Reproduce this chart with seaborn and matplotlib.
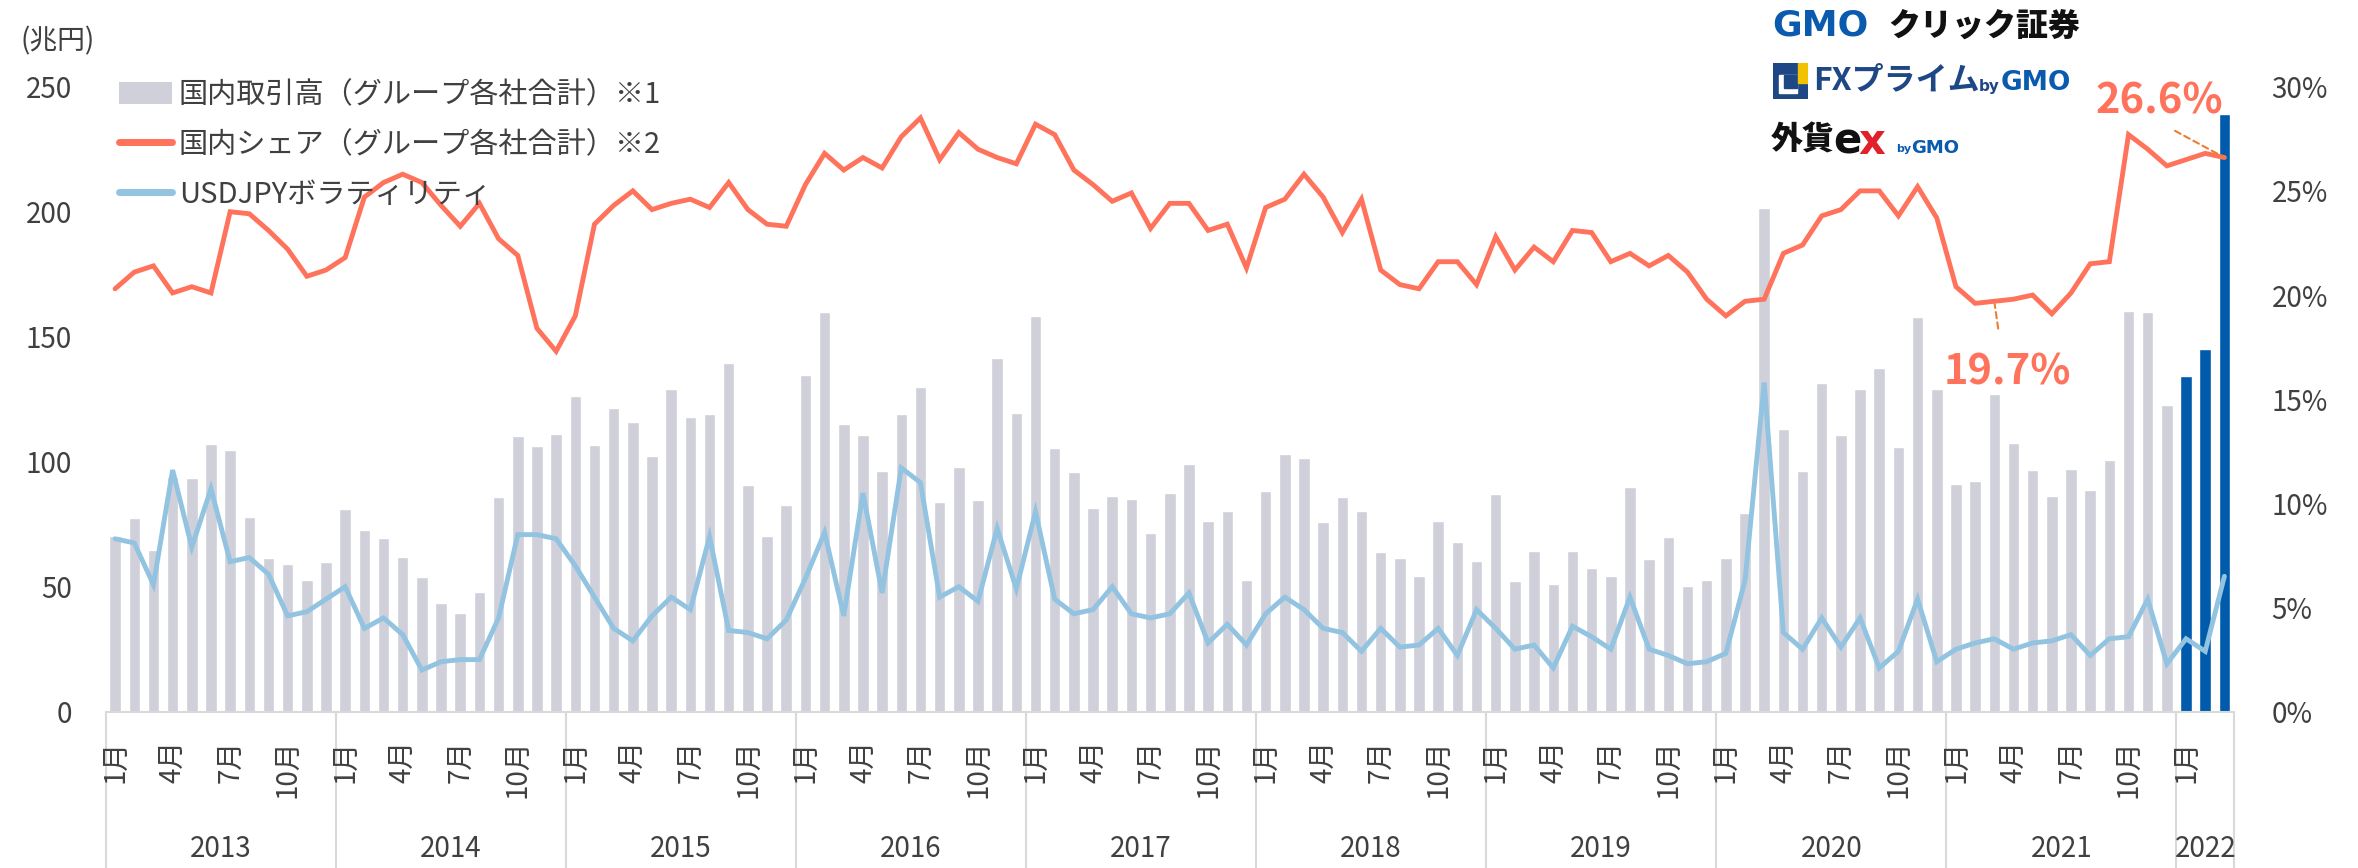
import numpy as np
import pandas as pd
import matplotlib
matplotlib.use("Agg")
import matplotlib.pyplot as plt
import matplotlib.transforms as mtransforms
from matplotlib.patches import Patch, Rectangle
from matplotlib.lines import Line2D
import seaborn as sns

# ---------------- data ----------------
years = [2013, 2014, 2015, 2016, 2017, 2018, 2019, 2020, 2021, 2022]
months_per_year = [12, 12, 12, 12, 12, 12, 12, 12, 12, 3]

# 国内取引高 (兆円)
volume = [
    70.3, 77.4, 64.5, 94.0, 93.4, 107.2, 104.8, 77.9, 61.6, 58.9, 52.7, 59.8,      # 2013
    81.0, 72.7, 69.5, 61.7, 53.8, 43.6, 39.4, 47.8, 85.8, 110.4, 106.2, 111.1,     # 2014
    126.1, 106.8, 121.4, 115.8, 102.1, 129.2, 117.8, 118.9, 139.5, 90.6, 70.3, 82.6,  # 2015
    134.8, 159.7, 115.1, 110.7, 96.1, 119.0, 129.8, 83.7, 98.0, 84.6, 141.6, 119.5,   # 2016
    158.2, 105.5, 95.9, 81.3, 86.1, 85.0, 71.6, 87.4, 99.1, 76.2, 80.2, 52.7,      # 2017
    88.2, 103.2, 101.6, 75.8, 85.7, 80.2, 63.7, 61.3, 54.1, 76.2, 67.7, 60.2,      # 2018
    86.9, 52.4, 64.1, 50.9, 64.1, 57.3, 54.2, 89.7, 60.9, 70.0, 50.3, 52.6,        # 2019
    61.6, 79.4, 201.5, 113.1, 96.1, 131.3, 110.7, 129.2, 137.6, 105.9, 158.0, 129.2,  # 2020
    91.0, 92.2, 126.9, 107.5, 96.7, 86.2, 97.1, 88.6, 100.7, 160.4, 160.0, 122.5,  # 2021
    134.4, 144.9, 239.0,                                                           # 2022
]

# 国内シェア (%)
share = [
    20.3, 21.1, 21.4, 20.1, 20.4, 20.1, 24.0, 23.9, 23.1, 22.2, 20.9, 21.2,
    21.8, 24.7, 25.4, 25.8, 25.4, 24.3, 23.3, 24.4, 22.7, 21.9, 18.4, 17.3,
    19.0, 23.4, 24.3, 25.0, 24.1, 24.4, 24.6, 24.2, 25.4, 24.1, 23.4, 23.3,
    25.3, 26.8, 26.0, 26.6, 26.1, 27.6, 28.5, 26.5, 27.8, 27.0, 26.6, 26.3,
    28.2, 27.7, 26.0, 25.3, 24.5, 24.9, 23.2, 24.4, 24.4, 23.1, 23.4, 21.3,
    24.2, 24.6, 25.8, 24.7, 23.0, 24.6, 21.2, 20.5, 20.3, 21.6, 21.6, 20.5,
    22.8, 21.2, 22.3, 21.6, 23.1, 23.0, 21.6, 22.0, 21.4, 21.9, 21.1, 19.8,
    19.0, 19.7, 19.8, 22.0, 22.4, 23.8, 24.1, 25.0, 25.0, 23.8, 25.2, 23.7,
    20.4, 19.6, 19.7, 19.8, 20.0, 19.1, 20.1, 21.5, 21.6, 27.7, 27.0, 26.2,
    26.5, 26.8, 26.6,
]

# USDJPY ボラティリティ (%)
volatility = [
    8.3, 8.1, 6.1, 11.6, 7.9, 10.7, 7.2, 7.4, 6.6, 4.6, 4.8, 5.4,
    6.0, 4.0, 4.5, 3.7, 2.0, 2.4, 2.5, 2.5, 4.5, 8.5, 8.5, 8.3,
    7.0, 5.5, 4.0, 3.4, 4.6, 5.5, 4.9, 8.4, 3.9, 3.8, 3.5, 4.4,
    6.4, 8.6, 4.6, 10.5, 5.7, 11.7, 11.0, 5.5, 6.0, 5.3, 8.8, 5.9,
    9.6, 5.4, 4.7, 4.9, 6.0, 4.7, 4.5, 4.7, 5.7, 3.3, 4.2, 3.2,
    4.7, 5.5, 4.9, 4.0, 3.8, 2.9, 4.0, 3.1, 3.2, 4.0, 2.7, 4.9,
    4.0, 3.0, 3.2, 2.1, 4.1, 3.6, 3.0, 5.5, 3.0, 2.7, 2.3, 2.4,
    2.8, 6.3, 15.8, 3.8, 3.0, 4.5, 3.1, 4.5, 2.1, 2.9, 5.4, 2.4,
    3.0, 3.3, 3.5, 3.0, 3.3, 3.4, 3.7, 2.7, 3.5, 3.6, 5.4, 2.3,
    3.5, 2.9, 6.5,
]

month_numbers = [m for n in months_per_year for m in range(1, n + 1)]
year_of = [y for y, n in zip(years, months_per_year) for _ in range(n)]
labels_legend = ["国内取引高（グループ各社合計）※1", "国内シェア（グループ各社合計）※2", "USDJPYボラティリティ"]
highlight_year = 2022
annot_points = [98, 110]   # indices of annotated share values (2021/3, 2022/3)

# ---------------- style ----------------
sns.set_theme(style="white")
plt.rcParams["font.family"] = ["Noto Sans CJK JP", "DejaVu Sans"]

GRAY_BAR = "#CFD0D9"
BLUE_BAR = "#005BAC"
RED = "#FF735C"
LBLUE = "#92C3E0"
TXT = "#404040"
SEP = "#D9D9D9"

W, H = 2358, 868
fig = plt.figure(figsize=(W / 100, H / 100), dpi=100)
ax_l, ax_r, ax_t, ax_b = 105.5, 2234, 86.7, 711.7
ax = fig.add_axes([ax_l / W, 1 - ax_b / H, (ax_r - ax_l) / W, (ax_b - ax_t) / H])

n = len(volume)
df = pd.DataFrame({
    "idx": np.arange(n),
    "volume": volume,
    "share": share,
    "vol": volatility,
    "kind": ["hl" if y == highlight_year else "base" for y in year_of],
})

sns.barplot(data=df, x="idx", y="volume", hue="kind",
            palette={"base": GRAY_BAR, "hl": BLUE_BAR}, dodge=False,
            width=0.6, saturation=1, legend=False, ax=ax, zorder=1)
ax.set_xlim(-0.5, n - 0.5)
ax.set_ylim(0, 250)
ax.set_yticks(range(0, 251, 50))
ax.set_ylabel("")
ax.set_xlabel("")

ax2 = ax.twinx()
sns.lineplot(data=df, x="idx", y="share", ax=ax2, color=RED, lw=3.5,
             solid_joinstyle="miter")
sns.lineplot(data=df, x="idx", y="vol", ax=ax2, color=LBLUE, lw=3.5,
             solid_joinstyle="miter")
ax2.set_ylim(0, 30)
ax2.set_yticks(range(0, 31, 5))
ax2.set_yticklabels([f"{v}%" for v in range(0, 31, 5)])
ax2.set_ylabel("")
ax2.set_xlabel("")
ax2.set_xlim(-0.5, n - 0.5)

for a in (ax, ax2):
    for s in a.spines.values():
        s.set_visible(False)
ax.spines["bottom"].set_visible(True)
ax.spines["bottom"].set_color(SEP)
ax.spines["bottom"].set_linewidth(1.5)

ax.tick_params(axis="y", length=0, pad=24, labelsize=20, labelcolor=TXT)
ax2.tick_params(axis="y", length=0, pad=27, labelsize=20, labelcolor=TXT)

# month ticks
tick_pos = [i for i, m in enumerate(month_numbers) if m in (1, 4, 7, 10)]
ax.set_xticks(tick_pos)
ax.set_xticklabels([f"{month_numbers[i]}月" for i in tick_pos], rotation=90)
ax.tick_params(axis="x", length=0, pad=20, labelsize=20, labelcolor=TXT)
ax2.tick_params(axis="x", length=0, labelbottom=False)

# year labels and separators
trans = mtransforms.blended_transform_factory(ax.transData, ax.transAxes)
start = 0
bounds = [-0.5]
for y, cnt in zip(years, months_per_year):
    center = start + (cnt - 1) / 2
    ax.text(center, -0.22, str(y), transform=trans, ha="center", va="center",
            fontsize=20, color=TXT)
    start += cnt
    bounds.append(start - 0.5)
for b in bounds:
    ax.plot([b, b], [0, -0.26], transform=trans, color=SEP, lw=1.5,
            clip_on=False, zorder=0)

# unit label
fig.text(58 / W, 1 - 41 / H, "(兆円)", ha="center", va="center", fontsize=20, color=TXT)

# legend
handles = [Patch(facecolor=GRAY_BAR, edgecolor="none"),
           Line2D([], [], color=RED, lw=5),
           Line2D([], [], color=LBLUE, lw=5)]
fig.legend(handles, labels_legend, loc="upper left",
           bbox_to_anchor=(119 / W, 1 - 80 / H), frameon=False, fontsize=21,
           handlelength=1.8, handleheight=0.75, handletextpad=0.25,
           labelspacing=0.68, borderpad=0, borderaxespad=0, labelcolor=TXT)

# annotations
ann_style = dict(arrowstyle="-", linestyle=(0, (3, 2)), color="#ED7D31", lw=1.5)
i1, i2 = annot_points
ax2.annotate(f"{share[i1]:.1f}%", xy=(i1, share[i1]), xytext=(i1 + 0.7, 16.3),
             ha="center", va="center", fontsize=30, fontweight="bold", color=RED,
             arrowprops=dict(**ann_style, relpos=(0.45, 1.0), shrinkA=14, shrinkB=2))
ax2.annotate(f"{share[i2]:.1f}%", xy=(i2, share[i2]), xytext=(i2 - 3.4, 29.3),
             ha="center", va="center", fontsize=30, fontweight="bold", color=RED,
             arrowprops=dict(**ann_style, relpos=(0.5, 0.0), shrinkA=8, shrinkB=0),
             annotation_clip=False)

# brand logos (as text)
def ft(xpx, ypx, s, **kw):
    fig.text(xpx / W, 1 - ypx / H, s, ha="left", va="center", **kw)

ft(1772, 26, "GMO", fontsize=26, fontweight="heavy", color="#0A5BAE",
   family=["DejaVu Sans"])
ft(1888, 26, "クリック証券", fontsize=23, fontweight="heavy", color="#111111")

icon_ax = fig.add_axes([1773 / W, 1 - 99 / H, 35 / W, 36 / H])
icon_ax.set_xlim(0, 1); icon_ax.set_ylim(0, 1); icon_ax.axis("off")
icon_ax.add_patch(Rectangle((0, 0), 1, 1, color="#1E4785"))
icon_ax.add_patch(Rectangle((0.18, 0.18), 0.5, 0.5, color="white"))
icon_ax.add_patch(Rectangle((0.3, 0.3), 0.38, 0.38, color="#1E4785"))
icon_ax.add_patch(Rectangle((0.7, 0.45), 0.3, 0.55, color="#F2C200"))

ft(1813, 80, "FXプライム", fontsize=23, fontweight="bold", color="#1E4785")
ft(1979, 86, "by", fontsize=11, fontweight="bold", color="#1E4785",
   family=["DejaVu Sans"])
ft(2001, 83, "GMO", fontsize=19, fontweight="heavy", color="#0A5BAE",
   family=["DejaVu Sans"])

ft(1771, 140, "外貨", fontsize=23, fontweight="heavy", color="#111111")
ft(1833, 142, "e", fontsize=30, fontweight="heavy", color="#111111",
   family=["DejaVu Sans"])
ft(1858, 142, "x", fontsize=30, fontweight="heavy", color="#E0202A",
   family=["DejaVu Sans"])
ft(1896, 149, "by", fontsize=8, fontweight="bold", color="#0A5BAE",
   family=["DejaVu Sans"])
ft(1911, 148, "GMO", fontsize=13, fontweight="heavy", color="#0A5BAE",
   family=["DejaVu Sans"])

fig.savefig("out.png", dpi=100)
